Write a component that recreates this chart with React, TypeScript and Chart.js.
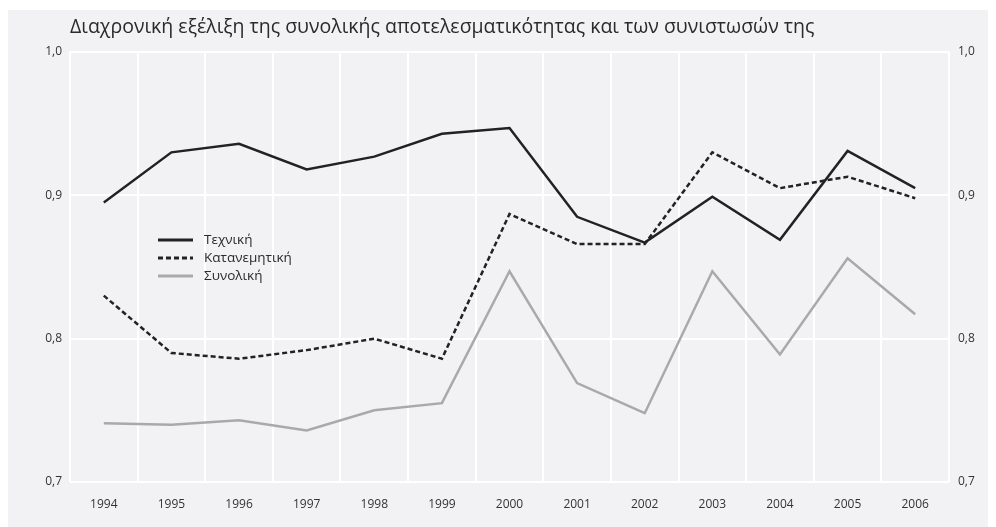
import React, { useEffect, useRef } from "react";
import { Chart, registerables } from "chart.js";

Chart.register(...registerables);

const years = ["1994", "1995", "1996", "1997", "1998", "1999", "2000", "2001", "2002", "2003", "2004", "2005", "2006"];
const technical = [0.895, 0.930, 0.936, 0.918, 0.927, 0.943, 0.947, 0.885, 0.867, 0.899, 0.869, 0.931, 0.905];
const allocative = [0.830, 0.790, 0.786, 0.792, 0.800, 0.786, 0.887, 0.866, 0.866, 0.930, 0.905, 0.913, 0.898];
const overall = [0.741, 0.740, 0.743, 0.736, 0.750, 0.755, 0.847, 0.769, 0.748, 0.847, 0.789, 0.856, 0.817];
const yTicks = [0.7, 0.8, 0.9, 1.0];
const seriesNames = ["Τεχνική", "Κατανεμητική", "Συνολική"];
const title = "Διαχρονική εξέλιξη της συνολικής αποτελεσματικότητας και των συνιστωσών της";

const FONT = "'Open Sans', 'Noto Sans', sans-serif";

const fmt = (v: number) => v.toFixed(1).replace(".", ",");

const overlayPlugin = {
  id: "overlay",
  afterDraw(chart: any) {
    const { ctx, chartArea } = chart;
    ctx.save();
    // title
    ctx.fillStyle = "#2a2a2a";
    ctx.font = `19.5px ${FONT}`;
    ctx.textAlign = "left";
    ctx.textBaseline = "middle";
    ctx.fillText(title, chartArea.left, 17);
    // legend
    const lx = chartArea.left + 88;
    const ly = chartArea.top + 188;
    const items = chart.data.datasets;
    items.forEach((ds: any, i: number) => {
      const y = ly + i * 18;
      ctx.beginPath();
      ctx.strokeStyle = ds.borderColor;
      ctx.lineWidth = 3;
      ctx.setLineDash(ds.borderDash || []);
      ctx.moveTo(lx, y);
      ctx.lineTo(lx + 35, y);
      ctx.stroke();
      ctx.setLineDash([]);
      ctx.fillStyle = "#2a2a2a";
      ctx.font = `13.5px ${FONT}`;
      ctx.fillText(ds.label, lx + 46, y);
    });
    ctx.restore();
  },
};

export default function App() {
  const ref = useRef<HTMLCanvasElement | null>(null);
  useEffect(() => {
    if (!ref.current) return;
    const tickFont = { family: FONT, size: 12 };
    const chart = new Chart(ref.current, {
      type: "line",
      data: {
        labels: years,
        datasets: [
          { label: seriesNames[0], data: technical, borderColor: "#222222", borderWidth: 2.5, pointRadius: 0, tension: 0, yAxisID: "y" },
          { label: seriesNames[1], data: allocative, borderColor: "#222222", borderWidth: 2.5, borderDash: [5, 3], pointRadius: 0, tension: 0, yAxisID: "y" },
          { label: seriesNames[2], data: overall, borderColor: "#a9a9a9", borderWidth: 2.5, pointRadius: 0, tension: 0, yAxisID: "y" },
        ],
      },
      options: {
        animation: false,
        responsive: false,
        maintainAspectRatio: false,
        layout: { padding: { top: 42, left: 0, right: 0, bottom: 0 } },
        plugins: { legend: { display: false }, tooltip: { enabled: false }, title: { display: false } },
        scales: {
          x: {
            offset: true,
            grid: { color: "#ffffff", lineWidth: 2, offset: true, drawTicks: false },
            border: { display: false },
            ticks: { color: "#333", font: tickFont, padding: 15, maxRotation: 0 },
            afterFit: (s: any) => { s.height = 45; },
          },
          y: {
            position: "left",
            min: 0.7,
            max: 1.0,
            afterBuildTicks: (s: any) => { s.ticks = yTicks.map((v) => ({ value: v })); },
            grid: { color: "#ffffff", lineWidth: 2, drawTicks: false },
            border: { display: false },
            ticks: { color: "#333", font: tickFont, padding: 8, callback: (v: any) => fmt(Number(v)) },
            afterFit: (s: any) => { s.width = 62; },
          },
          y2: {
            position: "right",
            min: 0.7,
            max: 1.0,
            afterBuildTicks: (s: any) => { s.ticks = yTicks.map((v) => ({ value: v })); },
            grid: { display: false, drawTicks: false },
            border: { display: false },
            ticks: { color: "#333", font: tickFont, padding: 9, callback: (v: any) => fmt(Number(v)) },
            afterFit: (s: any) => { s.width = 41; },
          },
        },
      },
      plugins: [overlayPlugin],
    });
    return () => chart.destroy();
  }, []);
  return (
    <div style={{ width: 982, height: 517, marginTop: 2, background: "#f2f2f4" }}>
      <canvas ref={ref} width={982} height={517} style={{ display: "block" }} />
    </div>
  );
}
